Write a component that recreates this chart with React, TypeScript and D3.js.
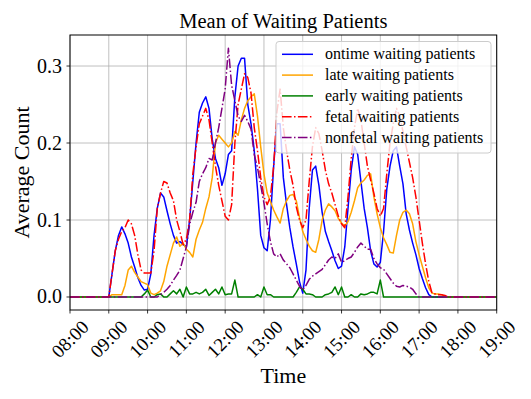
import React from "react";
import * as d3 from "d3";

// readings every 5 minutes, from 09:00 to 17:45 (zero outside)
const seriesStart = "09:00";
const stepMinutes = 5;
const dayStart = "08:00";
const dayEnd = "19:00";

const hourLabels = ["08:00", "09:00", "10:00", "11:00", "12:00", "13:00", "14:00", "15:00", "16:00", "17:00", "18:00", "19:00"];
const yTickValues = [0, 0.1, 0.2, 0.3];

const ontime = [
  0, 0.03, 0.06, 0.08, 0.091, 0.082, 0.07, 0.052, 0.039, 0.025, 0.015, 0.009,
  0.01, 0.03, 0.08, 0.115, 0.135, 0.13, 0.112, 0.095, 0.08, 0.07, 0.072, 0.068,
  0.065, 0.1, 0.15, 0.2, 0.24, 0.252, 0.26, 0.245, 0.205, 0.18, 0.168, 0.145,
  0.16, 0.185, 0.19, 0.26, 0.3, 0.31, 0.31, 0.25, 0.225, 0.19, 0.14, 0.08,
  0.064, 0.06, 0.1, 0.17, 0.225, 0.225, 0.155, 0.12, 0.09, 0.065, 0.043, 0.02,
  0.005, 0.035, 0.115, 0.165, 0.17, 0.145, 0.11, 0.085, 0.072, 0.06, 0.047, 0.037,
  0.04, 0.065, 0.115, 0.165, 0.195, 0.185, 0.15, 0.115, 0.09, 0.06, 0.043, 0.039,
  0.045, 0.085, 0.14, 0.17, 0.19, 0.195, 0.17, 0.147, 0.108, 0.087, 0.07, 0.055,
  0.037, 0.024, 0.012, 0.003, 0, 0, 0, 0, 0, 0,
];

const late = [
  0, 0.003, 0.003, 0.003, 0.003, 0.015, 0.035, 0.04, 0.032, 0.026, 0.02, 0.018,
  0.016, 0.005, 0.003, 0.005, 0.008, 0.02, 0.04, 0.055, 0.07, 0.078, 0.066, 0.07,
  0.062, 0.058, 0.052, 0.075, 0.087, 0.097, 0.115, 0.13, 0.155, 0.2, 0.21, 0.205,
  0.2, 0.195, 0.2, 0.215, 0.21, 0.23, 0.245, 0.255, 0.26, 0.264, 0.235, 0.195,
  0.16, 0.135, 0.124, 0.113, 0.104, 0.096, 0.115, 0.125, 0.132, 0.133, 0.125, 0.103,
  0.085, 0.075, 0.066, 0.06, 0.058, 0.075, 0.1, 0.113, 0.121, 0.117, 0.112, 0.102,
  0.096, 0.092, 0.098, 0.11, 0.125, 0.142, 0.148, 0.152, 0.158, 0.16, 0.13, 0.108,
  0.09, 0.077, 0.068, 0.058, 0.057, 0.08, 0.1, 0.11, 0.113, 0.108, 0.095, 0.072,
  0.055, 0.04, 0.025, 0.012, 0.005, 0.004, 0.004, 0.003, 0, 0,
];

const early = [
  0, 0, 0, 0, 0, 0, 0, 0, 0, 0, 0, 0.004,
  0.009, 0, 0, 0.003, 0.004, 0, 0, 0.004, 0.008, 0.004, 0.01, 0,
  0.013, 0.004, 0.004, 0.006, 0.004, 0.006, 0.01, 0.002, 0.006, 0.01, 0.004, 0.013,
  0.003, 0.004, 0.004, 0.022, 0, 0, 0, 0, 0, 0, 0.003, 0,
  0.013, 0.003, 0.003, 0, 0, 0, 0, 0, 0, 0, 0.006, 0.013,
  0.01, 0.004, 0.004, 0.003, 0, 0, 0, 0.003, 0.004, 0.006, 0.013, 0.003,
  0.013, 0, 0, 0.003, 0, 0, 0.004, 0.003, 0.004, 0.006, 0.006, 0.004,
  0.022, 0, 0, 0, 0, 0, 0, 0, 0, 0, 0, 0,
  0, 0, 0, 0, 0, 0, 0, 0, 0, 0,
];

const fetal = [
  0, 0.03, 0.06, 0.075, 0.085, 0.09, 0.1, 0.095, 0.08, 0.055, 0.035, 0.031,
  0.031, 0.031, 0.06, 0.115, 0.135, 0.15, 0.148, 0.135, 0.125, 0.1, 0.085, 0.068,
  0.075, 0.1, 0.16, 0.195, 0.225, 0.235, 0.245, 0.23, 0.2, 0.17, 0.145, 0.125,
  0.105, 0.1, 0.12, 0.2, 0.25, 0.27, 0.29, 0.285, 0.265, 0.22, 0.19, 0.155,
  0.13, 0.12, 0.13, 0.17, 0.24, 0.27, 0.22, 0.19, 0.165, 0.145, 0.117, 0.1,
  0.09, 0.1, 0.15, 0.195, 0.22, 0.212, 0.19, 0.165, 0.147, 0.135, 0.12, 0.105,
  0.095, 0.09, 0.13, 0.18, 0.22, 0.245, 0.23, 0.2, 0.17, 0.152, 0.135, 0.115,
  0.105, 0.115, 0.16, 0.2, 0.225, 0.245, 0.235, 0.215, 0.195, 0.175, 0.155, 0.13,
  0.1, 0.07, 0.043, 0.02, 0.005, 0.004, 0.003, 0.003, 0.002, 0,
];

const nonfetal = [
  0, 0, 0, 0, 0, 0, 0, 0, 0, 0, 0, 0,
  0, 0, 0, 0, 0.003, 0.006, 0.01, 0.015, 0.022, 0.028, 0.035, 0.05,
  0.065, 0.094, 0.11, 0.123, 0.15, 0.16, 0.168, 0.18, 0.178, 0.2, 0.22, 0.245,
  0.27, 0.323, 0.275, 0.255, 0.235, 0.228, 0.236, 0.228, 0.218, 0.185, 0.168, 0.145,
  0.122, 0.095, 0.072, 0.056, 0.052, 0.056, 0.048, 0.043, 0.038, 0.03, 0.022, 0.014,
  0.009, 0.015, 0.023, 0.027, 0.03, 0.033, 0.036, 0.042, 0.048, 0.052, 0.05, 0.056,
  0.045, 0.047, 0.05, 0.052, 0.058, 0.065, 0.07, 0.066, 0.062, 0.062, 0.05, 0.043,
  0.038, 0.036, 0.03, 0.024, 0.018, 0.014, 0.013, 0.015, 0.014, 0.013, 0.01, 0.004,
  0, 0, 0, 0, 0, 0, 0, 0, 0, 0,
];

const seriesNames = [
  "ontime waiting patients",
  "late waiting patients",
  "early waiting patients",
  "fetal waiting patients",
  "nonfetal waiting patients",
];
const seriesValues = [ontime, late, early, fetal, nonfetal];

// styles, kept apart from the data
const seriesColors = ["#0000ff", "#ffa500", "#008000", "#ff0000", "#800080"];
const seriesDash = [null, null, null, "9.6,2.4,1.5,2.4", "9.6,2.4,1.5,2.4"];

const W = 531;
const H = 399;
const margin = { left: 70, right: 34.3, top: 35, bottom: 89 };
const font = "'Liberation Serif', 'Times New Roman', serif";

const toMinutes = (s: string) => {
  const [h, m] = s.split(":").map(Number);
  return h * 60 + m;
};

export default function App() {
  const x = d3
    .scaleLinear()
    .domain([toMinutes(dayStart), toMinutes(dayEnd)])
    .range([margin.left, W - margin.right]);
  const y = d3
    .scaleLinear()
    .domain([-0.0169, 0.3403])
    .range([H - margin.bottom, margin.top]);

  const line = d3
    .line<{ t: number; v: number }>()
    .x((d) => x(d.t))
    .y((d) => y(d.v));

  const start = toMinutes(seriesStart);
  const paths = seriesValues.map((vals) => {
    const pts = vals.map((v, i) => ({ t: start + i * stepMinutes, v }));
    // zero before the first and after the last reading
    const all = [{ t: toMinutes(dayStart), v: 0 }, ...pts, { t: toMinutes(dayEnd), v: 0 }];
    return line(all) || "";
  });

  const x0 = margin.left;
  const x1 = W - margin.right;
  const y0 = margin.top;
  const y1 = H - margin.bottom;

  // legend
  const lg = { x: 276, y: 41.5, w: 215, h: 111.5, row: 20.8 };

  return (
    <svg
      width={W}
      height={H}
      style={{ position: "absolute", left: 0, top: 0, background: "#fff" }}
      fontFamily={font}
    >
      <rect x={0} y={0} width={W} height={H} fill="#fff" />
      {/* grid */}
      <g stroke="#b0b0b0" strokeWidth={0.8}>
        {hourLabels.map((h) => (
          <line key={h} x1={x(toMinutes(h))} x2={x(toMinutes(h))} y1={y0} y2={y1} />
        ))}
        {yTickValues.map((v) => (
          <line key={v} x1={x0} x2={x1} y1={y(v)} y2={y(v)} />
        ))}
      </g>

      {/* series */}
      <defs>
        <clipPath id="plot">
          <rect x={x0} y={y0} width={x1 - x0} height={y1 - y0} />
        </clipPath>
      </defs>
      <g clipPath="url(#plot)" fill="none" strokeWidth={1.5} strokeLinejoin="round">
        {paths.map((d, i) => (
          <path
            key={seriesNames[i]}
            d={d}
            stroke={seriesColors[i]}
            strokeDasharray={seriesDash[i] || undefined}
          />
        ))}
      </g>

      {/* frame */}
      <rect x={x0} y={y0} width={x1 - x0} height={y1 - y0} fill="none" stroke="#000" strokeWidth={1} />

      {/* x ticks */}
      {hourLabels.map((h) => {
        const px = x(toMinutes(h));
        return (
          <g key={h}>
            <line x1={px} x2={px} y1={y1} y2={y1 + 3.5} stroke="#000" strokeWidth={0.8} />
            <text
              transform={`translate(${px},${y1 + 29}) rotate(-45)`}
              textAnchor="middle"
              dominantBaseline="central"
              fontSize={19}
              fill="#000"
            >
              {h}
            </text>
          </g>
        );
      })}

      {/* y ticks */}
      {yTickValues.map((v) => (
        <g key={v}>
          <line x1={x0 - 3.5} x2={x0} y1={y(v)} y2={y(v)} stroke="#000" strokeWidth={0.8} />
          <text x={x0 - 8} y={y(v) + 6.5} textAnchor="end" fontSize={20} fill="#000">
            {d3.format(".1f")(v)}
          </text>
        </g>
      ))}

      {/* labels */}
      <text x={(x0 + x1) / 2} y={28} textAnchor="middle" fontSize={20.5} fill="#000">
        Mean of Waiting Patients
      </text>
      <text x={(x0 + x1) / 2} y={383} textAnchor="middle" fontSize={22} fill="#000">
        Time
      </text>
      <text
        transform={`translate(29,${(y0 + y1) / 2}) rotate(-90)`}
        textAnchor="middle"
        fontSize={22}
        fill="#000"
      >
        Average Count
      </text>

      {/* legend */}
      <rect
        x={lg.x}
        y={lg.y}
        width={lg.w}
        height={lg.h}
        rx={3}
        fill="#fff"
        fillOpacity={0.8}
        stroke="#cccccc"
        strokeWidth={1}
      />
      {seriesNames.map((name, i) => {
        const ry = lg.y + 12.8 + i * lg.row;
        return (
          <g key={name}>
            <line
              x1={lg.x + 6}
              x2={lg.x + 37}
              y1={ry}
              y2={ry}
              stroke={seriesColors[i]}
              strokeWidth={1.5}
              strokeDasharray={seriesDash[i] || undefined}
            />
            <text x={lg.x + 49} y={ry + 5} fontSize={16} fill="#000">
              {name}
            </text>
          </g>
        );
      })}
    </svg>
  );
}
